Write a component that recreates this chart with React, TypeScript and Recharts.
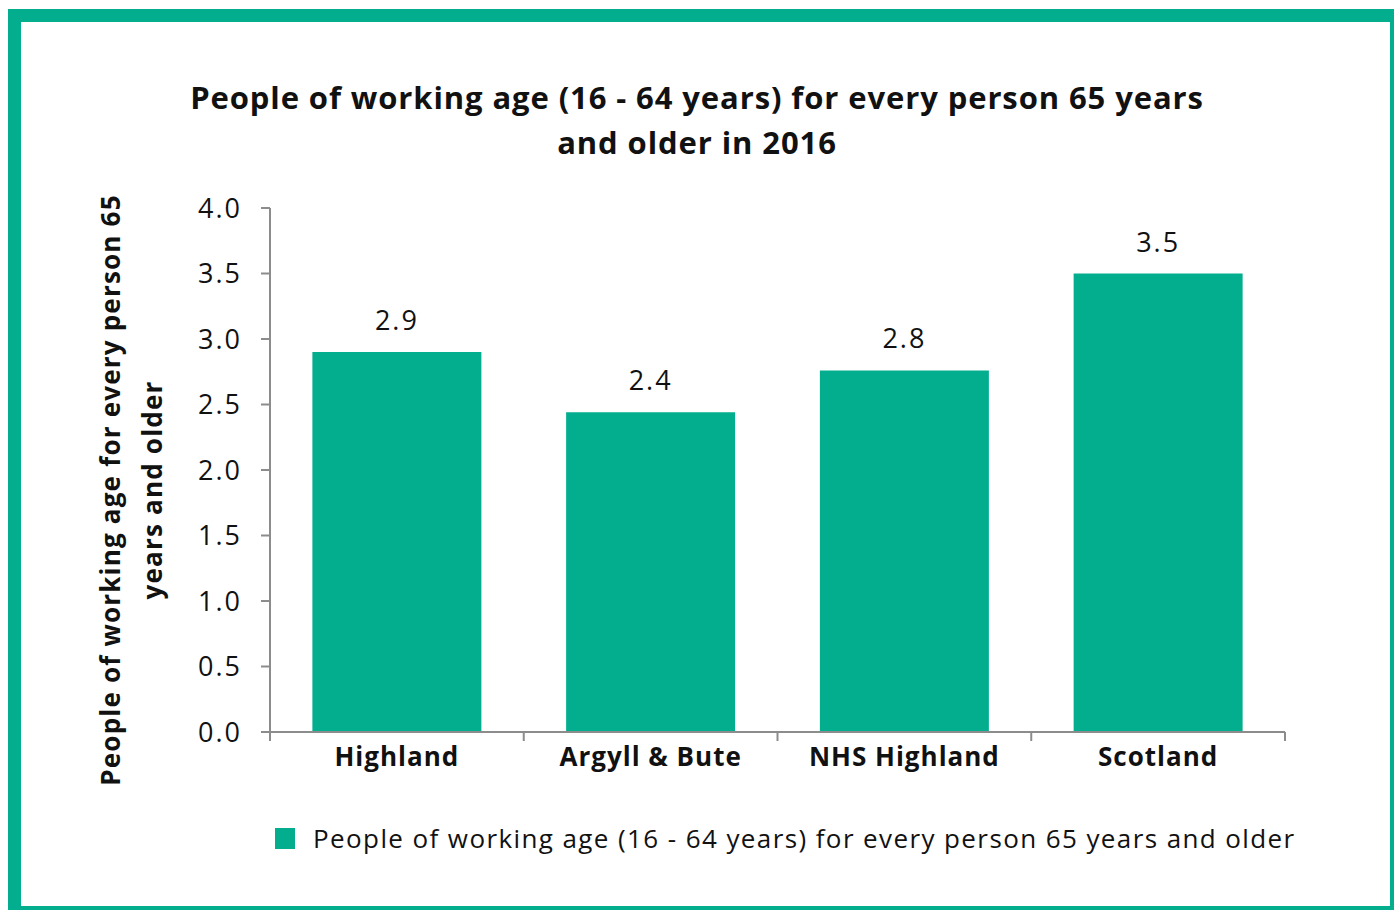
import React from 'react';
import { BarChart, Bar, XAxis, YAxis, LabelList, Legend } from 'recharts';

const categories = ['Highland', 'Argyll & Bute', 'NHS Highland', 'Scotland'];
const ratioValues = [2.9, 2.44, 2.76, 3.5];
const yTicks = [0, 0.5, 1, 1.5, 2, 2.5, 3, 3.5, 4];
const seriesName = 'People of working age (16 - 64 years) for every person 65 years and older';
const titleLines = ['People of working age (16 - 64 years) for every person 65 years', 'and older in 2016'];
const yLabelLines = ['People of working age for every person 65', 'years and older'];

const data = categories.map((c, i) => ({ name: c, value: ratioValues[i] }));

const GREEN = '#03AE8F';
const AXIS = '#8c8c8c';
const FONT = '"Open Sans", sans-serif';

const W = 1394;
const H = 910;
const M = { top: 208, right: 109, left: 0, bottom: 52 };
const Y_AXIS_W = 270;

const XTick = (props: any) => {
  const { x, y, payload, index } = props;
  const half = payload && payload.offset ? payload.offset : (W - M.left - M.right - Y_AXIS_W) / categories.length / 2;
  const last = index === categories.length - 1;
  return (
    <g>
      <line x1={x - half} x2={x - half} y1={y} y2={y + 9} stroke={AXIS} strokeWidth={2} />
      {last && <line x1={x + half} x2={x + half} y1={y} y2={y + 9} stroke={AXIS} strokeWidth={2} />}
      <text
        x={x}
        y={y + 34}
        textAnchor="middle"
        fontFamily={FONT}
        fontWeight={700}
        fontSize={26}
        letterSpacing={1}
        fill="#111"
      >
        {payload.value}
      </text>
    </g>
  );
};

const LegendContent = (props: any) => {
  const item = props.payload && props.payload[0];
  return (
    <div style={{ display: 'flex', alignItems: 'center', height: 40, paddingLeft: 275, whiteSpace: 'nowrap' }}>
      <span
        style={{ display: 'inline-block', width: 20, height: 21, background: item ? item.color : GREEN, marginRight: 18 }}
      />
      <span style={{ fontFamily: FONT, fontSize: 26, letterSpacing: 1.4, color: '#111' }}>
        {item ? item.value : seriesName}
      </span>
    </div>
  );
};

export default function App() {
  return (
    <div style={{ position: 'fixed', left: 0, top: 0, width: W, height: H, background: '#fff', overflow: 'hidden' }}>
      <div
        style={{
          position: 'absolute',
          left: 8,
          top: 9,
          width: 1369,
          height: 884,
          border: `13px solid ${GREEN}`,
        }}
      />
      <div
        style={{
          position: 'absolute',
          left: 0,
          width: W,
          top: 75,
          textAlign: 'center',
          fontFamily: FONT,
          fontWeight: 700,
          fontSize: 31,
          letterSpacing: 0.9,
          lineHeight: '45px',
          color: '#111',
        }}
      >
        {titleLines.map((t) => (
          <div key={t}>{t}</div>
        ))}
      </div>
      <div
        style={{
          position: 'absolute',
          left: 131 - 330,
          top: 490 - 42,
          width: 660,
          height: 84,
          lineHeight: '42px',
          textAlign: 'center',
          transform: 'rotate(-90deg)',
          transformOrigin: '50% 50%',
          fontFamily: FONT,
          fontWeight: 700,
          fontSize: 26,
          letterSpacing: 1.2,
          color: '#111',
          whiteSpace: 'nowrap',
        }}
      >
        {yLabelLines.map((t) => (
          <div key={t}>{t}</div>
        ))}
      </div>
      <div style={{ position: 'absolute', left: 0, top: 0 }}>
        <BarChart width={W} height={H} data={data} margin={M} barCategoryGap="16.7%">
          <XAxis
            dataKey="name"
            height={86}
            axisLine={{ stroke: AXIS, strokeWidth: 2 }}
            tickLine={false}
            tickSize={0}
            tickMargin={0}
            tick={<XTick />}
            interval={0}
          />
          <YAxis
            width={Y_AXIS_W}
            domain={[0, 4]}
            ticks={yTicks}
            interval={0}
            tickFormatter={(v: number) => v.toFixed(1)}
            axisLine={{ stroke: AXIS, strokeWidth: 2 }}
            tickLine={{ stroke: AXIS, strokeWidth: 2 }}
            tickSize={9}
            tickMargin={19}
            tick={{ fontFamily: FONT, fontSize: 27, letterSpacing: 2, fill: '#111' }}
          />
          <Legend verticalAlign="bottom" height={40} wrapperStyle={{ left: 0, width: W }} content={<LegendContent />} />
          <Bar dataKey="value" name={seriesName} fill={GREEN} isAnimationActive={false}>
            <LabelList
              dataKey="value"
              position="top"
              offset={22}
              formatter={(v: any) => Number(v).toFixed(1)}
              style={{ fontFamily: FONT, fontSize: 27, letterSpacing: 2, fill: '#111' }}
            />
          </Bar>
        </BarChart>
      </div>
    </div>
  );
}
